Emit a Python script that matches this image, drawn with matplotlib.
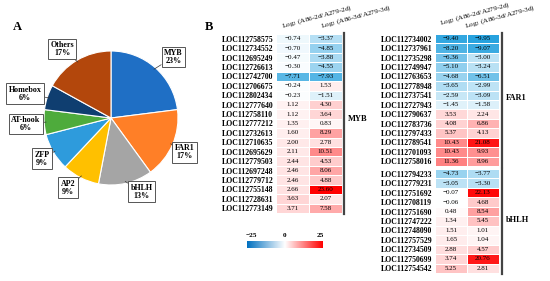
import numpy as np
import matplotlib
matplotlib.use("Agg")
import matplotlib.pyplot as plt
from matplotlib.colors import LinearSegmentedColormap, TwoSlopeNorm
from matplotlib.lines import Line2D

plt.rcParams["font.family"] = ["Liberation Serif", "DejaVu Serif"]
plt.rcParams["mathtext.fontset"] = "stix"

W, H = 550, 281

# ---- panel A: TF families ----
families = ["MYB", "FAR1", "bHLH", "AP2", "ZFP", "AT-hook", "Homebox", "Others"]
shares = [23, 17, 13, 9, 9, 6, 6, 17]
pie_colors = ["#1f6fc5", "#ff7f27", "#a5a5a5", "#ffc000",
              "#2e9bdc", "#4eab3c", "#0f3e70", "#b3470c"]
# label box centres in pie data units
label_pos = [(0.93, 0.91), (1.10, -0.51), (0.46, -1.10), (-0.64, -1.04),
             (-1.03, -0.61), (-1.27, -0.09), (-1.28, 0.36), (-0.73, 1.03)]

# ---- panel B: log2 fold changes ----
myb_genes = ["LOC112758575", "LOC112734552", "LOC112695249", "LOC112726613",
             "LOC112742700", "LOC112706675", "LOC112802434", "LOC112777640",
             "LOC112758110", "LOC112777212", "LOC112732613", "LOC112710635",
             "LOC112695629", "LOC112779503", "LOC112697248", "LOC112779712",
             "LOC112755148", "LOC112728631", "LOC112773149"]
myb_2d = [-0.74, -0.70, -0.47, -0.30, -7.71, -0.24, -0.23, 1.12, 1.12, 1.35,
          1.60, 2.00, 2.11, 2.44, 2.46, 2.46, 2.66, 3.63, 3.71]
myb_3d = [-3.37, -4.85, -3.88, -4.55, -7.93, 1.53, -1.51, 4.30, 3.64, 0.83,
          8.29, 2.78, 10.51, 4.53, 8.06, 4.88, 23.60, 2.07, 7.58]

far1_genes = ["LOC112734002", "LOC112737961", "LOC112735298", "LOC112749947",
              "LOC112763653", "LOC112778948", "LOC112737541", "LOC112727943",
              "LOC112790637", "LOC112783736", "LOC112797433", "LOC112789541",
              "LOC112701093", "LOC112758016"]
far1_2d = [-9.40, -8.20, -6.36, -5.10, -4.68, -3.65, -2.59, -1.45, 3.53, 4.08,
           5.37, 10.43, 10.43, 11.36]
far1_3d = [-9.95, -9.07, -3.00, -3.24, -6.51, -2.99, -3.09, -1.58, 2.24, 6.86,
           4.13, 21.08, 9.93, 8.96]

bhlh_genes = ["LOC112794233", "LOC112779231", "LOC112751692", "LOC112708119",
              "LOC112751690", "LOC112747222", "LOC112748090", "LOC112757529",
              "LOC112734509", "LOC112750699", "LOC112754542"]
bhlh_2d = [-4.73, -3.05, -0.07, -0.06, 0.48, 1.34, 1.51, 1.65, 2.88, 3.74, 5.25]
bhlh_3d = [-3.77, -3.30, 22.13, 4.68, 8.54, 5.45, 1.01, 1.04, 4.57, 20.76, 2.81]

col_labels = [r"Log$_2$ (A86-2d/A279-2d)", r"Log$_2$ (A86-3d/A279-3d)"]
cbar_ticks = [-25, 0, 25]

cell_cmap = LinearSegmentedColormap.from_list(
    "fc", [(0, "#1c9ddc"), (0.5, "white"), (1, "#ff0000")])
cell_norm = TwoSlopeNorm(vmin=-10.5, vcenter=0, vmax=23)


def rect(x0, y0, x1, y1):
    return [x0 / W, 1 - y1 / H, (x1 - x0) / W, (y1 - y0) / H]


def fx(x):
    return x / W


def fy(y):
    return 1 - y / H


fig = plt.figure(figsize=(5.5, 2.81), dpi=100)

# pie
ax = fig.add_axes(rect(44, 51, 178, 185))
wedges, _ = ax.pie(shares, colors=pie_colors, startangle=90, counterclock=False,
                   wedgeprops=dict(edgecolor="white", linewidth=0.8))
ax.set_xlim(-1, 1)
ax.set_ylim(-1, 1)
ax.set_aspect("equal")
for w, name, pct, pos in zip(wedges, families, shares, label_pos):
    ang = np.deg2rad((w.theta1 + w.theta2) / 2)
    edge = (0.97 * np.cos(ang), 0.97 * np.sin(ang))
    ax.annotate(f"{name}\n{pct}%", xy=edge, xytext=pos, ha="center", va="center",
                fontsize=5.8, fontweight="bold", linespacing=1.0,
                annotation_clip=False,
                bbox=dict(boxstyle="square,pad=0.3", fc="white", ec="#555555", lw=0.7),
                arrowprops=dict(arrowstyle="-", color="#333333", lw=0.5,
                                shrinkA=0, shrinkB=0))

fig.text(fx(13), fy(27), "A", fontsize=9, fontweight="bold", va="center")
fig.text(fx(205), fy(27), "B", fontsize=9, fontweight="bold", va="center")


def draw_heat(box, genes, v2d, v3d):
    hax = fig.add_axes(rect(*box))
    data = np.column_stack([v2d, v3d])
    n = len(genes)
    hax.pcolormesh(data, cmap=cell_cmap, norm=cell_norm,
                   edgecolors="white", linewidth=0.4)
    hax.set_xlim(0, 2)
    hax.set_ylim(n, 0)
    hax.set_xticks([])
    hax.set_yticks(np.arange(n) + 0.5, genes, fontsize=5.6, fontweight="bold")
    hax.tick_params(length=0, pad=2)
    for s in hax.spines.values():
        s.set_visible(False)
    for i in range(n):
        for j in range(2):
            hax.text(j + 0.5, i + 0.5, f"{data[i, j]:.2f}".replace("-", "\u2212"),
                     ha="center", va="center", fontsize=5, color="black")
    return hax


draw_heat((276, 34, 342, 213), myb_genes, myb_2d, myb_3d)
draw_heat((435, 34, 499, 166), far1_genes, far1_2d, far1_3d)
draw_heat((435, 169, 499, 273), bhlh_genes, bhlh_2d, bhlh_3d)

# group bars and names
for x, y0, y1, name, ty in [(344, 33, 214, "MYB", 119), (502, 33, 167, "FAR1", 98),
                            (502, 169, 274, "bHLH", 220)]:
    fig.add_artist(Line2D([fx(x)] * 2, [fy(y0), fy(y1)], color="#444444", lw=1.6))
    fig.text(fx(x + 4), fy(ty), name, fontsize=6, fontweight="bold", va="center")

# rotated column headers
for (x, y), lab in zip([(283, 31), (322, 31), (441, 28), (466, 31)], col_labels * 2):
    fig.text(fx(x), fy(y), lab, fontsize=5.2, rotation=15, rotation_mode="anchor",
             ha="left", va="bottom")

# colour legend
cax = fig.add_axes(rect(247, 241, 323, 248))
grad_cmap = LinearSegmentedColormap.from_list(
    "leg", [(0, "#0070c0"), (0.5, "white"), (1, "#ff0000")])
cax.imshow(np.linspace(0, 1, 256)[None, :], cmap=grad_cmap, aspect="auto",
           extent=(cbar_ticks[0], cbar_ticks[-1], 0, 1))
cax.set_axis_off()
for t, x in zip(cbar_ticks, [251, 285, 320]):
    fig.text(fx(x), fy(238), str(t).replace("-", "\u2212"), fontsize=5.2,
             fontweight="bold", ha="center", va="bottom")

fig.savefig("out.png", dpi=100)
